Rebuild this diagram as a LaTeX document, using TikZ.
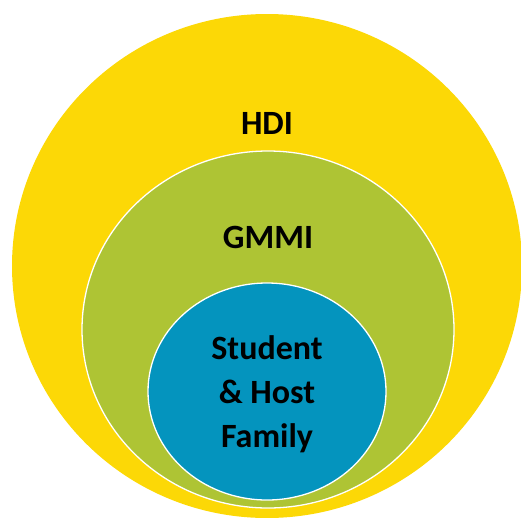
\documentclass[tikz,border=0pt]{standalone}
\usepackage{fontspec}
\setmainfont{Carlito}
\usetikzlibrary{positioning}

\definecolor{hdiyellow}{RGB}{252,216,6}
\definecolor{gmmigreen}{RGB}{174,196,52}
\definecolor{hostblue}{RGB}{4,148,190}

\begin{document}
\begin{tikzpicture}[x=1pt,y=-1pt,
        ring/.style={draw=white,line width=1.3pt},
        setname/.style={font=\bfseries\fontsize{34}{44}\selectfont,align=center,inner sep=0pt}]
    \useasboundingbox (0,0) rectangle (521,517);
    \clip (0,0) rectangle (521,517);

    \coordinate (hdi) at (267,266);
    \coordinate (gmmi) at (268,329.5);
    \coordinate (host) at (267,391.5);

    \fill[hdiyellow] (hdi) ellipse [x radius=255pt, y radius=252pt];
    \filldraw[ring,fill=gmmigreen] (gmmi) ellipse [x radius=186pt, y radius=178.5pt];
    \filldraw[ring,fill=hostblue] (host) ellipse [x radius=119pt, y radius=108.5pt];

    \node[setname] (hdiname) at (267,123) {HDI};
    \node[setname] (gmminame) at (268,237) {GMMI};
    \node[setname] (hostname) at (267,394) {Student\\\& Host\\Family};
\end{tikzpicture}
\end{document}
